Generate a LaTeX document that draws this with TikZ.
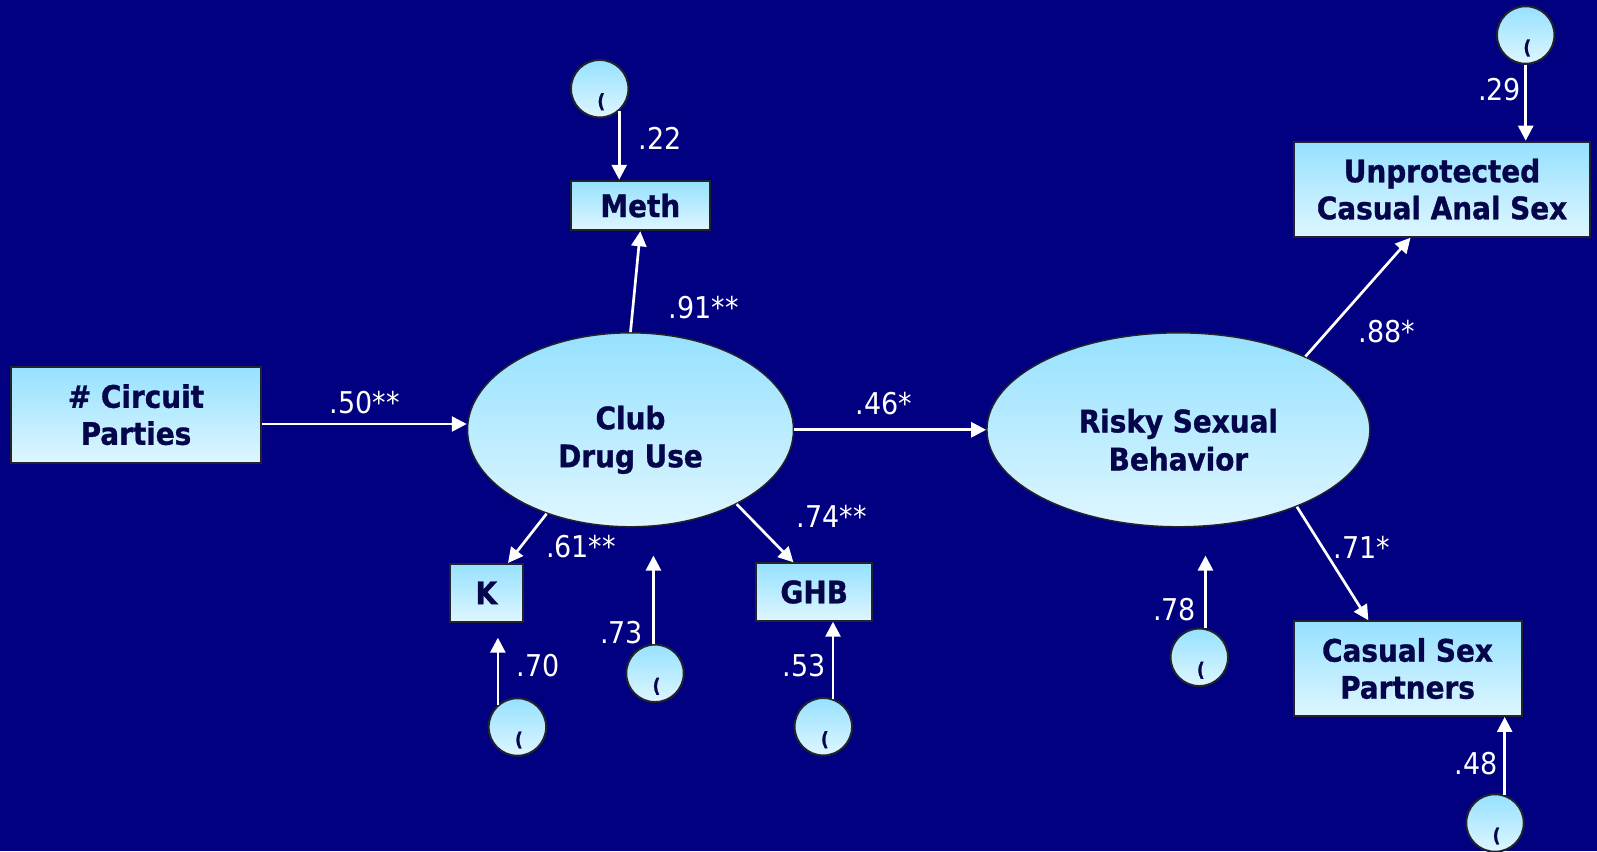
\documentclass[tikz,border=0pt]{standalone}
\usepackage{fontspec}
\setmainfont{DejaVu Sans}
\newfontfamily\boxfont{DejaVu Sans Condensed}[BoldFeatures={FakeBold=1}]
\usetikzlibrary{arrows.meta,shapes.geometric,calc}
\definecolor{bg}{RGB}{0,0,128}
\definecolor{ftop}{RGB}{150,225,255}
\definecolor{fbot}{RGB}{222,246,255}
\definecolor{ink}{RGB}{5,5,75}
\definecolor{edge}{RGB}{35,35,45}
\tikzset{
  obs/.style={rectangle, draw=edge, line width=2pt, top color=ftop, bottom color=fbot,
    inner sep=0pt, align=center, text=ink, font=\boxfont\bfseries\fontsize{31}{37}\selectfont},
  lat/.style={ellipse, draw=edge, line width=1.5pt, top color=ftop, bottom color=fbot, inner sep=0pt},
  lattext/.style={inner sep=0pt, align=center, text=ink, font=\boxfont\bfseries\fontsize{31}{38}\selectfont},
  err/.style={circle, draw=edge, line width=2pt, top color=ftop, bottom color=fbot, minimum size=57.5pt, inner sep=0pt},
  glyph/.style={inner sep=0pt, text=ink, font=\boxfont\bfseries\fontsize{19}{19}\selectfont},
  lbl/.style={text=white, font=\boxfont\fontsize{30}{36}\selectfont, inner sep=0pt, anchor=center},
  arr/.style={draw=white, line width=2.7pt, -{Triangle[width=15pt,length=15pt]}}
}
\begin{document}
\begin{tikzpicture}[x=1pt,y=-1pt]
\fill[bg] (0,0) rectangle (1597,851);
\useasboundingbox (0,0) rectangle (1597,851);

% observed variables
\node[obs, minimum width=250pt, minimum height=96pt] (Circ) at (136,414.7) {\# Circuit\\Parties};
\node[obs, minimum width=139pt, minimum height=49.5pt] (Meth) at (640.3,205.5) {Meth};
\node[obs, minimum width=72.7pt, minimum height=57.7pt] (K) at (486.3,592.8) {K};
\node[obs, minimum width=116.3pt, minimum height=57.4pt] (GHB) at (814.2,592) {GHB};
\node[obs, minimum width=296pt, minimum height=95pt] (Unp) at (1442,189.2) {Unprotected\\Casual Anal Sex};
\node[obs, minimum width=228pt, minimum height=94.7pt] (Cas) at (1407.5,668.6) {Casual Sex\\Partners};

% latent variables
\node[lat, minimum width=326pt, minimum height=194pt] (Club) at (630.5,429.8) {};
\node[lattext] (ClubT) at ([yshift=-10pt]Club.center) {Club\\Drug Use};
\node[lat, minimum width=383pt, minimum height=194pt] (Risky) at (1178.4,429.8) {};
\node[lattext] (RiskyT) at ([yshift=-10pt]Risky.center) {Risky Sexual\\Behavior};

% error terms
\node[err] (eM) at (599.7,88.7) {};
\node[err] (eK) at (517.4,727) {};
\node[err] (eC) at (655,673.3) {};
\node[err] (eG) at (823.3,726.7) {};
\node[err] (eU) at (1525.7,35) {};
\node[err] (eR) at (1199.3,657.3) {};
\node[err] (eP) at (1495,823) {};
\foreach \e in {eM,eK,eC,eG,eU,eR,eP}{
  \node[glyph] (g\e) at ([shift={(1.5pt,-13pt)}]\e.center) {(};
}

% paths
\draw[arr] ([yshift=-9.3pt]Circ.east) -- ([yshift=-9.3pt]Circ.east -| Club.west);
\draw[arr] (Club.east) -- (Risky.west);
\draw[arr] (Club.north) -- (Meth.south);
\draw[arr] (Club.225.8) -- (K.54);
\draw[arr] (Club.-35.4) -- (GHB.125);
\draw[arr] (Risky.30) -- (Unp.237.5);
\draw[arr] (Risky.-33.3) -- (Cas.129.3);
\draw[arr] (eM.-49) -- (eM.-49 |- Meth.north);
\draw[arr] (eU.south) -- (eU.south |- Unp.north);
\draw[arr, shorten >=15pt] (eK.131) -- (eK.131 |- K.south);
\draw[arr, shorten >=28pt] (eC.93) -- (eC.93 |- Club.south);
\draw[arr] (eG.71) -- (eG.71 |- GHB.south);
\draw[arr, shorten >=28pt] (eR.78) -- (eR.78 |- Risky.south);
\draw[arr] (eP.71) -- (eP.71 |- Cas.south);

% labels
\node[lbl] (l22) at (660,138) {.22};
\node[lbl] (l91) at (703.8,307.6) {.91**};
\node[lbl] (l50) at (364.6,402.3) {.50**};
\node[lbl] (l46) at (884,403.3) {.46*};
\node[lbl] (l61) at (581,546.5) {.61**};
\node[lbl] (l74) at (831.7,516.7) {.74**};
\node[lbl] (l73) at (621.7,632.5) {.73};
\node[lbl] (l70) at (538.3,666) {.70};
\node[lbl] (l53) at (804,666) {.53};
\node[lbl] (l29) at (1499.5,90) {.29};
\node[lbl] (l78) at (1174.5,609.5) {.78};
\node[lbl] (l88) at (1387,332) {.88*};
\node[lbl] (l71) at (1362,547) {.71*};
\node[lbl] (l48) at (1476,764) {.48};
\end{tikzpicture}
\end{document}
